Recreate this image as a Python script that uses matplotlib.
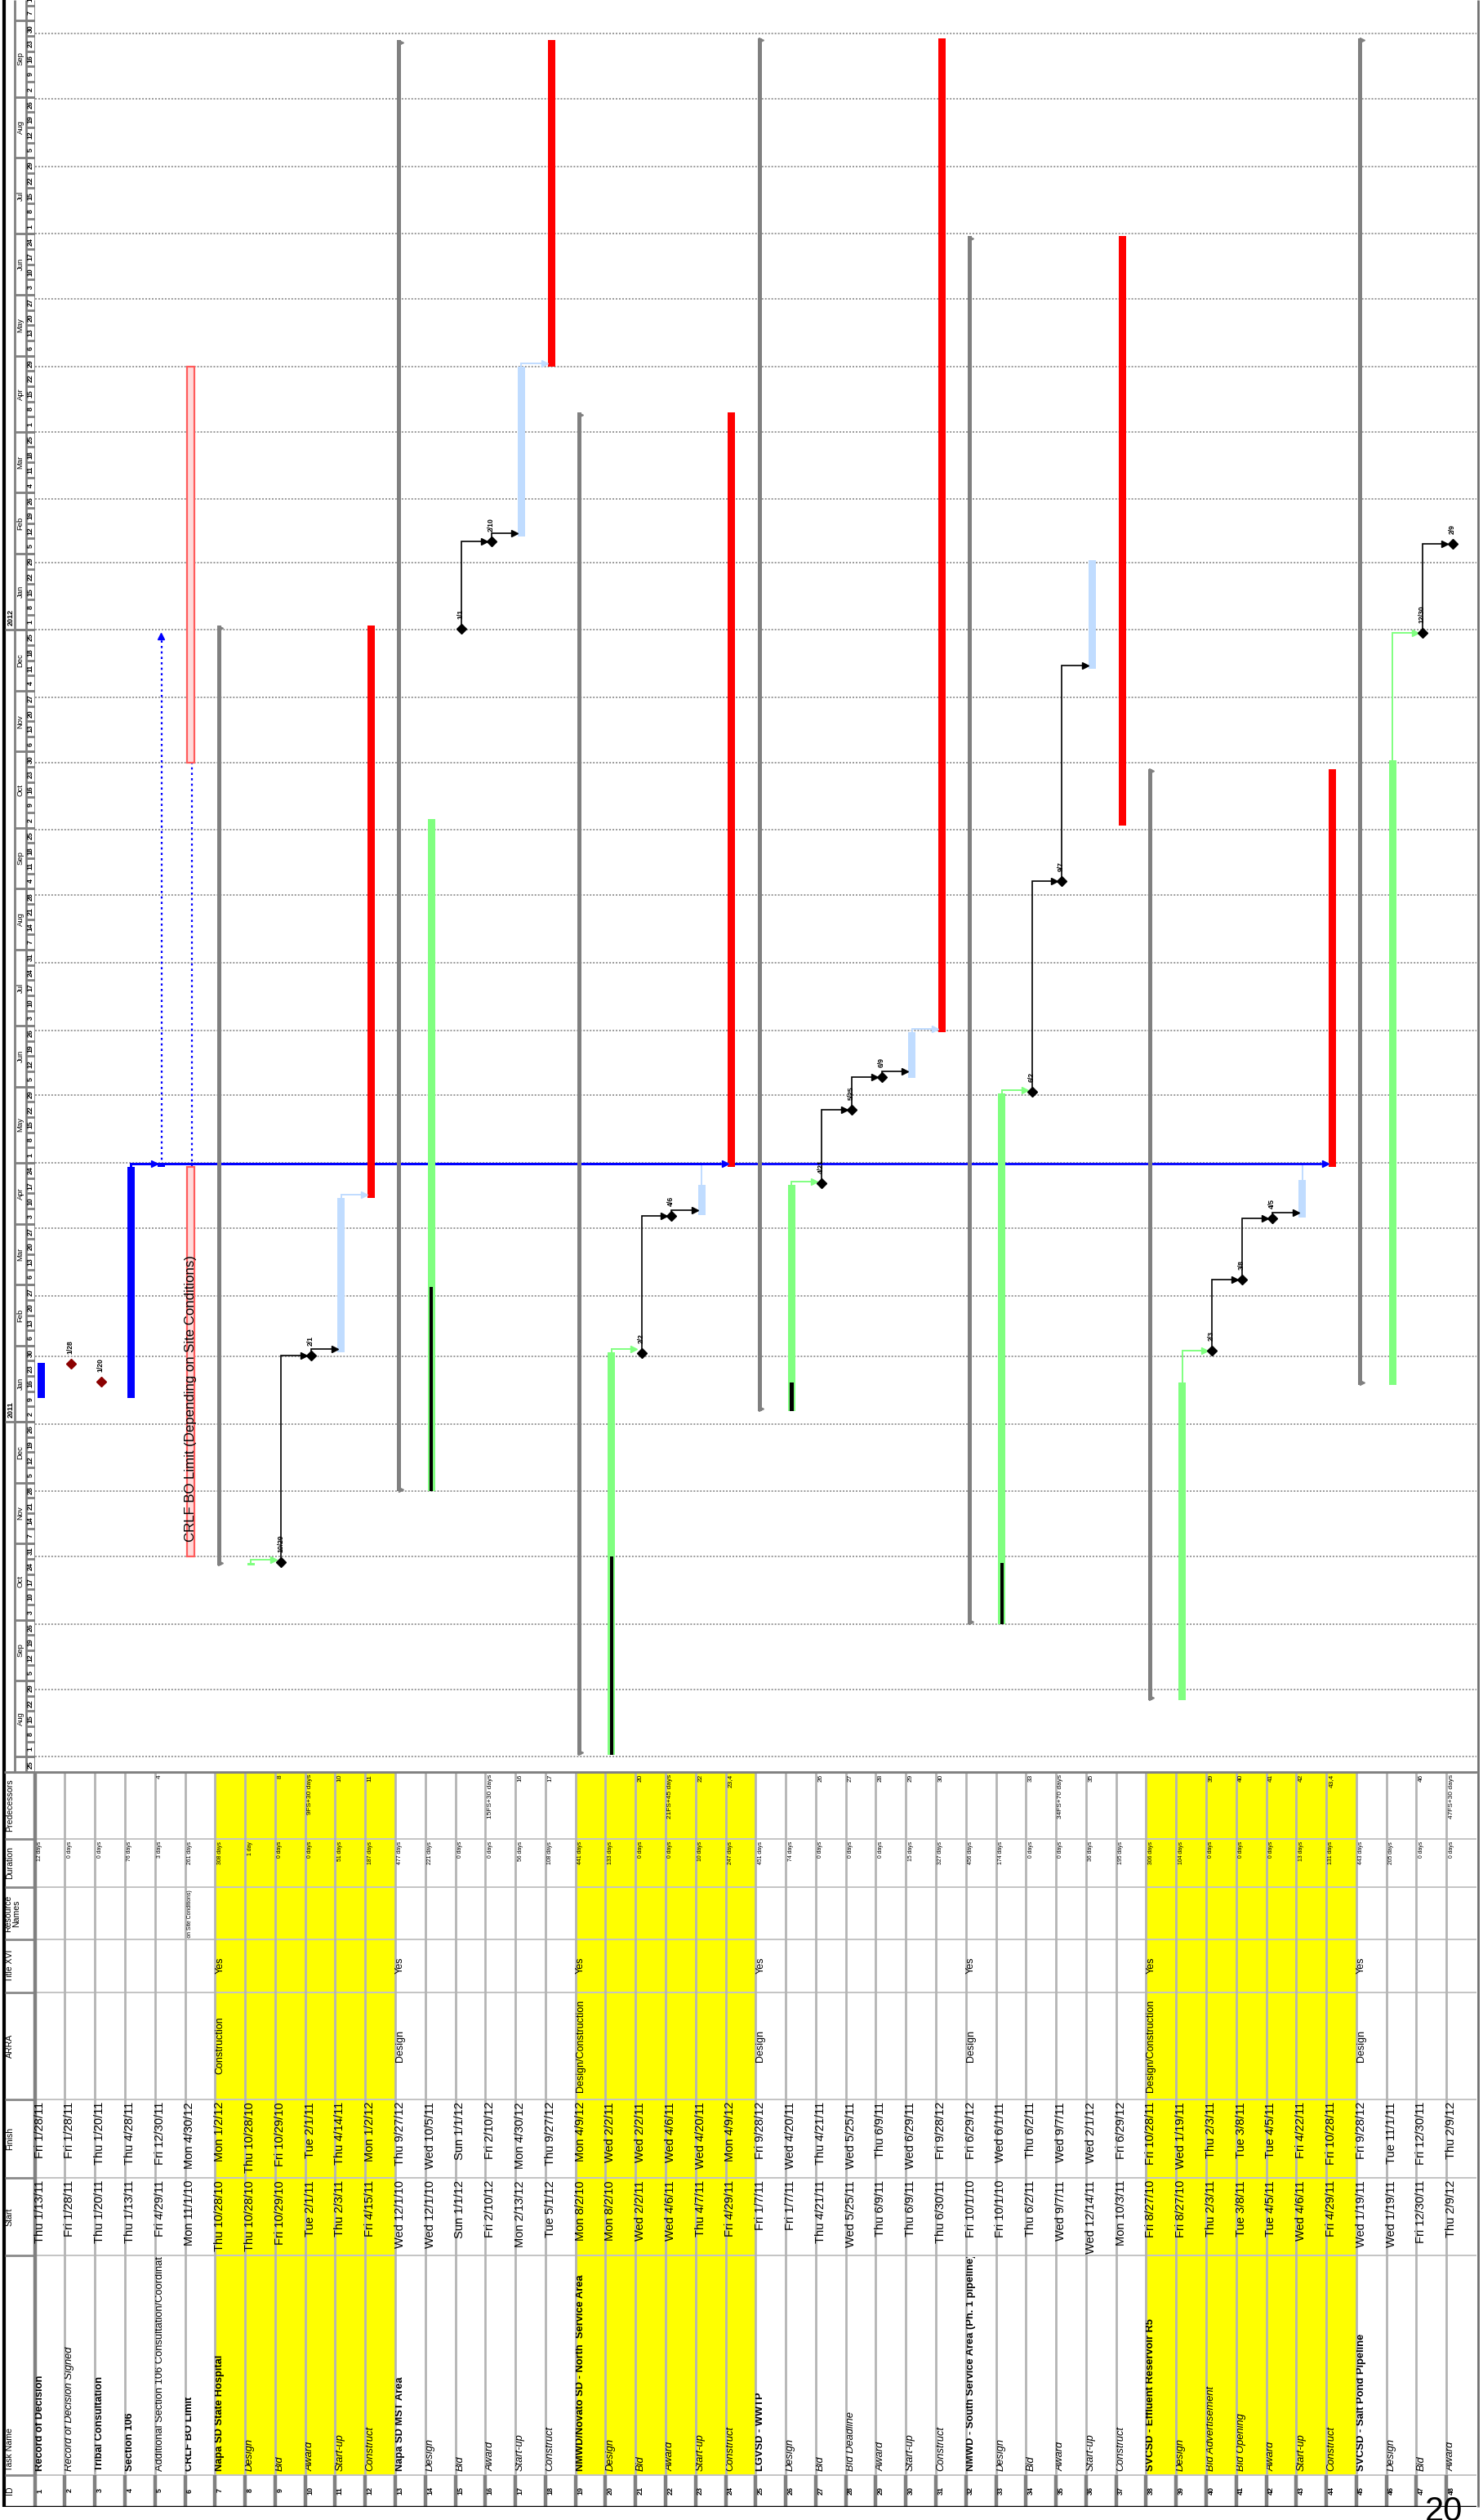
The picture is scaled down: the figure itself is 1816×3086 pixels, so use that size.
import datetime as dt
import re

import matplotlib

matplotlib.use("Agg")
import matplotlib.dates as mdates
import matplotlib.pyplot as plt
from matplotlib import font_manager
from matplotlib.patches import Rectangle
from matplotlib.transforms import Bbox, TransformedBbox

W, H = 1816, 3086

installed = {f.name for f in font_manager.fontManager.ttflist}
NARROW = "Liberation Sans Narrow" if "Liberation Sans Narrow" in installed else "Liberation Sans"
SANS = "Liberation Sans"

# ---- schedule table -------------------------------------------------------
task_names = [
    "Record of Decision", "Record of Decision Signed", "Tribal Consultation", "Section 106",
    "Additional Section 106 Consultation/Coordinatio", "CRLF BO Limit",
    "Napa SD State Hospital", "Design", "Bid", "Award", "Start-up", "Construct",
    "Napa SD MST Area", "Design", "Bid", "Award", "Start-up", "Construct",
    "NMWD/Novato SD - North  Service Area", "Design", "Bid", "Award", "Start-up", "Construct",
    "LGVSD - WWTP", "Design", "Bid", "Bid Deadline", "Award", "Start-up", "Construct",
    "NMWD - South Service Area (Ph. 1 pipeline)", "Design", "Bid", "Award", "Start-up", "Construct",
    "SVCSD - Effluent Reservoir R5", "Design", "Bid Advertisement", "Bid Opening", "Award",
    "Start-up", "Construct",
    "SVCSD - Salt Pond Pipeline", "Design", "Bid", "Award",
]
name_styles = (
    "bibbnb" + "biiiii" + "biiiii" + "biiiii" + "biiiiii" + "biiiii" + "biiiiii" + "biii"
)
starts = [
    "Thu 1/13/11", "Fri 1/28/11", "Thu 1/20/11", "Thu 1/13/11", "Fri 4/29/11", "Mon 11/1/10",
    "Thu 10/28/10", "Thu 10/28/10", "Fri 10/29/10", "Tue 2/1/11", "Thu 2/3/11", "Fri 4/15/11",
    "Wed 12/1/10", "Wed 12/1/10", "Sun 1/1/12", "Fri 2/10/12", "Mon 2/13/12", "Tue 5/1/12",
    "Mon 8/2/10", "Mon 8/2/10", "Wed 2/2/11", "Wed 4/6/11", "Thu 4/7/11", "Fri 4/29/11",
    "Fri 1/7/11", "Fri 1/7/11", "Thu 4/21/11", "Wed 5/25/11", "Thu 6/9/11", "Thu 6/9/11",
    "Thu 6/30/11",
    "Fri 10/1/10", "Fri 10/1/10", "Thu 6/2/11", "Wed 9/7/11", "Wed 12/14/11", "Mon 10/3/11",
    "Fri 8/27/10", "Fri 8/27/10", "Thu 2/3/11", "Tue 3/8/11", "Tue 4/5/11", "Wed 4/6/11",
    "Fri 4/29/11",
    "Wed 1/19/11", "Wed 1/19/11", "Fri 12/30/11", "Thu 2/9/12",
]
finishes = [
    "Fri 1/28/11", "Fri 1/28/11", "Thu 1/20/11", "Thu 4/28/11", "Fri 12/30/11", "Mon 4/30/12",
    "Mon 1/2/12", "Thu 10/28/10", "Fri 10/29/10", "Tue 2/1/11", "Thu 4/14/11", "Mon 1/2/12",
    "Thu 9/27/12", "Wed 10/5/11", "Sun 1/1/12", "Fri 2/10/12", "Mon 4/30/12", "Thu 9/27/12",
    "Mon 4/9/12", "Wed 2/2/11", "Wed 2/2/11", "Wed 4/6/11", "Wed 4/20/11", "Mon 4/9/12",
    "Fri 9/28/12", "Wed 4/20/11", "Thu 4/21/11", "Wed 5/25/11", "Thu 6/9/11", "Wed 6/29/11",
    "Fri 9/28/12",
    "Fri 6/29/12", "Wed 6/1/11", "Thu 6/2/11", "Wed 9/7/11", "Wed 2/1/12", "Fri 6/29/12",
    "Fri 10/28/11", "Wed 1/19/11", "Thu 2/3/11", "Tue 3/8/11", "Tue 4/5/11", "Fri 4/22/11",
    "Fri 10/28/11",
    "Fri 9/28/12", "Tue 11/1/11", "Fri 12/30/11", "Thu 2/9/12",
]
arra = {7: "Construction", 13: "Design", 19: "Design/Construction", 25: "Design",
        32: "Design", 38: "Design/Construction", 45: "Design"}
title_xvi = {7: "Yes", 13: "Yes", 19: "Yes", 25: "Yes", 32: "Yes", 38: "Yes", 45: "Yes"}
resource_names = {6: "CRLF BO Limit (Depending on Site Conditions)"}
durations = [
    12, 0, 0, 76, 3, 261, 308, 1, 0, 0, 51, 187, 477, 221, 0, 0, 56, 108,
    441, 133, 0, 0, 10, 247, 451, 74, 0, 0, 0, 15, 327, 456, 174, 0, 0, 36, 195,
    306, 104, 0, 0, 0, 13, 131, 443, 205, 0, 0,
]
predecessors = {
    5: "4", 9: "8", 10: "9FS+30 days", 11: "10", 12: "11", 16: "15FS+30 days", 17: "16",
    18: "17", 21: "20", 22: "21FS+45 days", 23: "22", 24: "23,4", 27: "26", 28: "27",
    29: "28", 30: "29", 31: "30", 34: "33", 35: "34FS+70 days", 36: "35", 40: "39",
    41: "40", 42: "41", 43: "42", 44: "43,4", 47: "46", 48: "47FS+30 days",
}
highlighted = list(range(7, 13)) + list(range(19, 25)) + list(range(38, 45))

# how each task is drawn in the gantt
bar_kinds = [
    "blue", "ms_red", "ms_red", "blue", "split", "crlf",
    "summary", "design", "ms", "ms", "startup", "construct",
    "summary", "design", "ms", "ms", "startup", "construct",
    "summary", "design", "ms", "ms", "startup", "construct",
    "summary", "design", "ms", "ms", "ms", "startup", "construct",
    "summary", "design", "ms", "ms", "startup", "construct",
    "summary", "design", "ms", "ms", "ms", "startup", "construct",
    "summary", "design", "ms", "ms",
]
# completed part of the design tasks
progress_until = {14: "3/5/11", 20: "11/1/10", 26: "1/20/11", 33: "10/29/10"}
# worked segments of the split tasks
segments = {
    5: [("4/29/11", "4/29/11")],
    6: [("11/1/10", "4/28/11"), ("11/1/11", "4/30/12")],
}

COLORS = {
    "blue": "#0000ff", "design": "#80ff80", "startup": "#c0dcff", "construct": "#ff0000",
    "summary": "#808080", "ms": "black", "ms_red": "#8b0000", "split": "#0000ff",
    "crlf": "#0000ff",
}


def parse(s):
    return dt.datetime.strptime(s.split()[-1], "%m/%d/%y")


def num(d):
    return mdates.date2num(d)


def rect(left, top, right, bottom):
    return [left / W, 1 - bottom / H, (right - left) / W, (bottom - top) / H]


fig = plt.figure(figsize=(W / 100, H / 100), dpi=100)
fig.patch.set_facecolor("white")
renderer = fig.canvas.get_renderer()


def fit_size(text, width_px, **kw):
    """Font size at which `text` spans width_px pixels."""
    probe = fig.text(0, 0, text, fontsize=10, **kw)
    w = probe.get_window_extent(renderer).width
    probe.remove()
    return 10 * width_px / w


fs_name = fit_size("NMWD - South Service Area (Ph. 1 pipeline)", 266, family=NARROW,
                   fontweight="bold")
fs_date = fit_size("Wed 12/14/11", 90, family=NARROW)
fs_arra = fit_size("Design/Construction", 113, family=NARROW)
fs_dur = fit_size("441 days", 28, family=NARROW)
fs_pred = fit_size("21FS+45 days", 54, family=NARROW)
fs_head = fit_size("Predecessors", 64, family=NARROW)

t0 = dt.datetime(2010, 7, 25)
t1 = dt.datetime(2012, 10, 16, 12)

# ---- gantt area -----------------------------------------------------------
gx = fig.add_axes(rect(42.7, 0, 1808, 2170))
gx.set_xlim(0.5, 48.5)
gx.set_ylim(num(t0), num(t1))
gx.axis("off")

m = dt.datetime(2010, 8, 1)
while m < t1:
    gx.axhline(num(m), color="#7f7f7f", lw=1.1, ls=(0, (1.3, 1.3)), zorder=1)
    m = dt.datetime(m.year + m.month // 12, m.month % 12 + 1, 1)

OFF, BW = -0.30, 0.245
SOFF, SW = -0.37, 0.14

for i, kind in enumerate(bar_kinds, start=1):
    s, f = parse(starts[i - 1]), parse(finishes[i - 1])
    x = i + OFF
    if kind in ("blue", "design", "startup", "construct"):
        gx.bar(x, num(f) + 1 - num(s), bottom=num(s), width=BW, color=COLORS[kind],
               zorder=3, linewidth=0)
    elif kind == "summary":
        gx.bar(i + SOFF, num(f) + 1 - num(s), bottom=num(s), width=SW, color="#808080",
               zorder=3, linewidth=0)
        gx.plot([i + SOFF + 0.05] * 2, [num(s) + 1, num(f)], ls="none", marker=">",
                ms=5, color="#808080", zorder=3)
    elif kind in ("ms", "ms_red"):
        gx.plot(x, num(s) + 0.5, marker="D", ms=6.5, color=COLORS[kind], zorder=5)
        gx.text(x - 0.02, num(s) + 5, f"{s.month}/{s.day}", rotation=90,
                rotation_mode="anchor", ha="left", va="center", fontsize=6.2, family=SANS,
                fontweight="bold", zorder=6)
    elif kind in ("split", "crlf"):
        parts = [(parse(a), parse(b)) for a, b in segments[i]]
        for a, b in parts:
            if kind == "crlf":
                gx.bar(x, num(b) + 1 - num(a), bottom=num(a), width=BW, color="#ffdada",
                       edgecolor="#ff5c5c", linewidth=1.6, zorder=3)
            else:
                gx.bar(x, num(b) + 1 - num(a), bottom=num(a), width=BW, color="#0000ff",
                       linewidth=0, zorder=3)
        gap_end = num(parts[1][0]) if len(parts) > 1 else num(f) + 1
        gx.plot([x + 0.02] * 2, [num(parts[0][1]) + 1, gap_end], color="#0000ff", lw=1.6,
                ls=(0, (1.2, 1.8)), zorder=2)
        if len(parts) == 1:
            gx.plot(x, gap_end - 2, marker="^", ms=6, color="#0000ff", zorder=3)

    if i in progress_until:
        gx.bar(x, num(parse(progress_until[i])) - num(s), bottom=num(s), width=0.11,
               color="black", zorder=4, linewidth=0)

crlf_text = "CRLF BO Limit (Depending on Site Conditions)"
gx.text(6 + OFF, num(parse(segments[6][0][0])) + 7, crlf_text, rotation=90,
        rotation_mode="anchor", ha="left", va="center",
        fontsize=fit_size(crlf_text, 352, family=SANS), family=SANS, zorder=6)

# dependency links, coloured like the predecessor bar
for i, refs in predecessors.items():
    for ref in refs.split(","):
        j = int(re.match(r"\d+", ref).group())
        pk = bar_kinds[j - 1]
        if pk in ("ms", "ms_red"):
            y_from = num(parse(starts[j - 1])) + 1.6
            color, lw = "black", 1.2
        else:
            y_from = num(parse(finishes[j - 1])) + 1
            color = COLORS[pk]
            lw = 2.0 if pk == "blue" else 1.4
        x_from = j + OFF
        s = parse(starts[i - 1])
        if bar_kinds[i - 1] in ("ms", "ms_red"):
            y_to = num(s) + 0.5
            tip = i + OFF - 0.15
        else:
            y_to = num(s) + 1.5
            tip = i + OFF - BW / 2
        y_to = max(y_to, y_from + 1.5)
        gx.plot([x_from, x_from, tip - 0.08], [y_from, y_to, y_to], color=color, lw=lw,
                zorder=2, solid_joinstyle="miter")
        gx.plot(tip - 0.1, y_to, marker=">", ms=5.5, color=color, zorder=4)

# ---- timescale ------------------------------------------------------------
ts = fig.add_axes(rect(5.9, 0, 42.7, 2170))
ts.set_xlim(0, 36.8)
ts.set_ylim(num(t0), num(t1))
ts.axis("off")
YT, MT = 12.1, 26.1
ts.vlines([YT, MT, 36.8], num(t0), num(t1), color="#808080", lw=2)

sundays = []
d = t0
while d < t1:
    sundays.append(d)
    d += dt.timedelta(days=7)

for sun in sundays:
    ts.hlines(num(sun), MT, 36.8, color="#808080", lw=2)
    ts.text((MT + 36.8) / 2, num(sun) + 3.5, str(sun.day), rotation=90, ha="center",
            va="center", rotation_mode="anchor", fontsize=6.3, family=SANS,
            fontweight="bold")

month_marks = [sun for sun in sundays if sun.day <= 7]
bounds = [num(t0)] + [num(sun) for sun in month_marks] + [num(t1)]
labels = [None] + [sun.strftime("%b") for sun in month_marks]
for k in range(1, len(bounds) - 1):
    ts.hlines(bounds[k], YT, 36.8, color="#808080", lw=2)
    if bounds[k + 1] - bounds[k] > 20:
        ts.text((YT + MT) / 2, (bounds[k] + bounds[k + 1]) / 2, labels[k], rotation=90,
                ha="center", va="center", rotation_mode="anchor", fontsize=6.8, family=SANS)

for sun in month_marks:
    if sun.month == 1:
        ts.hlines(num(sun), 0, 36.8, color="#808080", lw=2)
        ts.text(YT / 2 + 0.8, num(sun) + 2, str(sun.year), rotation=90, ha="left",
                va="center", rotation_mode="anchor", fontsize=6.5, family=SANS,
                fontweight="bold")

# ---- table ----------------------------------------------------------------
tb = fig.add_axes(rect(5.9, 2170, 1808, 3070))
tb.set_xlim(-0.5, 48.5)
tb.set_ylim(900, 0)
tb.axis("off")

edges = [0, 82, 141, 205, 270, 401, 497, 592, 861, 900]
for i in highlighted:
    tb.add_patch(Rectangle((i - 0.5, 0), 1, 861, facecolor="#ffff00", edgecolor="none",
                           zorder=0))

for e in edges[1:-1]:
    tb.hlines(e, 0.5, 48.5, color="#c4c4c4", lw=1.4, zorder=1)
    tb.hlines(e, -0.5, 0.5, color="#8a8a8a", lw=2, zorder=1)
tb.vlines([i + 0.5 for i in range(1, 48)], 0, 861, color="#b4b4b4", lw=2, zorder=1)
tb.vlines([i + 0.5 for i in range(1, 48)], 861, 900, color="#808080", lw=3.2, zorder=1)
tb.vlines(0.5, 0, 900, color="#808080", lw=3.2, zorder=2)
tb.hlines(0, -0.5, 48.5, color="#808080", lw=2.2, zorder=2)
tb.hlines(900, -0.5, 48.5, color="black", lw=2.5, zorder=2)


def cell_clip(t, i, lo, hi):
    t.set_clip_box(TransformedBbox(Bbox([[i - 0.5, lo], [i + 0.5, hi]]), tb.transData))
    t.set_clip_on(True)


TOFF = -0.34
header = [
    ("ID", 880, "center"), ("Task Name", 856, "left"), ("Start", 545, "center"),
    ("Finish", 449, "center"), ("ARRA", 335, "center"), ("Title XVI", 237, "center"),
    ("Resource\nNames", 173, "center"), ("Duration", 111, "center"),
    ("Predecessors", 41, "center"),
]
for label, yy, ha in header:
    tb.text(TOFF + (0.08 if "\n" in label else 0), yy, label, rotation=90,
            rotation_mode="anchor", ha=ha, va="center", fontsize=fs_head,
            family=NARROW, linespacing=1.0)

for i in range(1, 49):
    x = i + TOFF
    style = name_styles[i - 1]
    tb.text(x, 880, str(i), rotation=90, rotation_mode="anchor", ha="center",
            va="center", fontsize=6.5, family=SANS, fontweight="bold")
    t = tb.text(x, 856, task_names[i - 1], rotation=90, rotation_mode="anchor", ha="left",
                va="center", fontsize=fs_name, family=NARROW,
                fontweight="bold" if style == "b" else "normal",
                fontstyle="italic" if style == "i" else "normal")
    cell_clip(t, i, 594, 861)
    # dates are right aligned: their end sits at the top of the column
    tb.text(x, 500, starts[i - 1], rotation=90, rotation_mode="anchor", ha="right",
            va="center", fontsize=fs_date, family=NARROW)
    tb.text(x, 404, finishes[i - 1], rotation=90, rotation_mode="anchor", ha="right",
            va="center", fontsize=fs_date, family=NARROW)
    if i in arra:
        tb.text(x, 335, arra[i], rotation=90, rotation_mode="anchor", ha="center",
                va="center", fontsize=fs_arra, family=NARROW)
    if i in title_xvi:
        tb.text(x, 237, title_xvi[i], rotation=90, rotation_mode="anchor", ha="center",
                va="center", fontsize=fs_arra, family=NARROW)
    if i in resource_names:
        t = tb.text(x, 144, resource_names[i], rotation=90, rotation_mode="anchor",
                    ha="right", va="center", fontsize=fs_dur, family=NARROW)
        cell_clip(t, i, 141, 205)
    n = durations[i - 1]
    tb.text(x, 85, f"{n} day" + ("" if n == 1 else "s"), rotation=90,
            rotation_mode="anchor", ha="right", va="center", fontsize=fs_dur,
            family=NARROW)
    if i in predecessors:
        tb.text(x, 3, predecessors[i], rotation=90, rotation_mode="anchor", ha="right",
                va="center", fontsize=fs_pred, family=NARROW)

# page frame
frame = fig.add_axes([0, 0, 1, 1], zorder=-1)
frame.set_xlim(0, W)
frame.set_ylim(H, 0)
frame.axis("off")
frame.vlines(4.5, 0, 3070, color="black", lw=3)
frame.vlines(1810, 0, 3070, color="#707070", lw=2)
frame.hlines(2170, 5, 1810, color="#808080", lw=2)
fig.text(1745 / W, 1 - 3056 / H, "20", fontsize=30, family=SANS, va="top", ha="left")

fig.savefig("out.png", dpi=100)
